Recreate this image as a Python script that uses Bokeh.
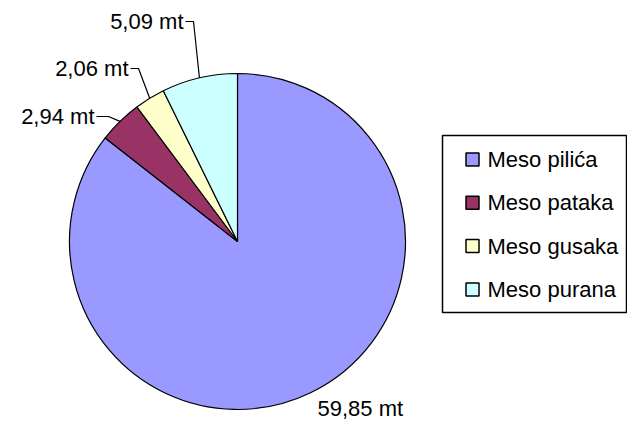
import math
from bokeh.plotting import figure
from bokeh.models import Range1d, ColumnDataSource
from bokeh.embed import file_html
from bokeh.resources import INLINE
from bokeh.core.properties import value

# ---- data ----
categories = ["Meso pilića", "Meso pataka", "Meso gusaka", "Meso purana"]
amounts = [59.85, 2.94, 2.06, 5.09]
value_labels = ["59,85 mt", "2,94 mt", "2,06 mt", "5,09 mt"]
colors = ["#9999FF", "#993366", "#FFFFCC", "#CCFFFF"]

# ---- layout (pixel coordinates from the top-left of the canvas) ----
W, H = 627, 420
FONT = "Liberation Sans"


def Y(img_y):
    return H - img_y


CX, CY, R = 237, 241, 168

p = figure(width=W, height=H, x_range=Range1d(0, W), y_range=Range1d(0, H),
           output_backend="svg", toolbar_location=None, min_border=0)
p.axis.visible = False
p.grid.visible = False
p.outline_line_color = None
p.background_fill_color = "white"

total = sum(amounts)
starts, ends, mids = [], [], []
cum = 0.0
for v in amounts:
    a0 = math.pi / 2 - cum / total * 2 * math.pi
    cum += v
    a1 = math.pi / 2 - cum / total * 2 * math.pi
    starts.append(a0)
    ends.append(a1)
    mids.append((a0 + a1) / 2)

src = ColumnDataSource(dict(start=starts, end=ends, color=colors, cat=categories))
p.wedge(x=CX, y=Y(CY), radius=R, start_angle="start", end_angle="end", direction="clock",
        fill_color="color", line_color="black", line_width=1.2, source=src)

# value labels with leader lines
label_pos = {1: (94, 116, 108), 2: (128, 68, 138), 3: (183, 21, 193)}
for i, lab in enumerate(value_labels):
    ex = CX + R * math.cos(mids[i])
    ey = Y(CY) + R * math.sin(mids[i])
    if i in label_pos:
        tx, ty, elx = label_pos[i]
        p.line([tx + 2, elx, ex], [Y(ty), Y(ty), ey], line_color="black", line_width=1.2)
        p.text(x=[tx], y=[Y(ty)], text=[lab], text_align="right", text_baseline="middle",
               text_font=value(FONT), text_font_size="22px", text_color="black")
    else:
        p.text(x=[317], y=[Y(408)], text=[lab], text_align="left", text_baseline="middle",
               text_font=value(FONT), text_font_size="22px", text_color="black")

# legend
LX0, LX1, LY0, LY1 = 442, 626, 135, 312
p.quad(left=[LX0], right=[LX1], top=[Y(LY0)], bottom=[Y(LY1)], fill_color="white",
       line_color="black", line_width=1.5)
ly = [Y(159 + 43.3 * i) for i in range(len(categories))]
p.scatter(x=[472] * len(categories), y=ly, marker="square", size=13, fill_color=colors,
          line_color="black", line_width=1.5)
p.text(x=[487] * len(categories), y=ly, text=categories, text_baseline="middle",
       text_font=value(FONT), text_font_size="22px", text_color="black")

open("out.html", "w").write(file_html(p, INLINE))
